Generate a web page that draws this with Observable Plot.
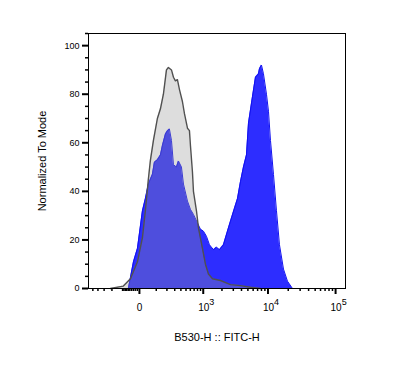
<!DOCTYPE html>
<html>
<head>
<meta charset="utf-8">
<script src="https://cdn.jsdelivr.net/npm/d3@7"></script>
<script src="https://cdn.jsdelivr.net/npm/@observablehq/plot@0.6"></script>
<style>
  html, body { margin: 0; padding: 0; background: #fff; }
  svg { font-family: "Liberation Sans", Arial, sans-serif; }
</style>
</head>
<body>
<div id="chart"></div>
<script>
// Control (grey) histogram: FITC-H value vs % of mode
const grayX = [-217, -94, -46, -9, 14, 29, 46, 59, 79, 109, 135, 163, 195, 217, 255, 282, 310, 341, 374, 428, 468, 532, 578, 602, 654, 681, 768, 831, 970, 1088, 1218, 1415, 1895, 2713, 3860, 5469, 7729];
const grayY = [0, 1, 4, 11, 21, 32, 45, 53, 61, 70, 74, 80, 90, 91, 90, 87, 85.5, 86, 82, 77, 72, 66, 65, 59, 48, 40, 32, 25, 16.5, 10, 6, 4, 3.3, 1.6, 1.2, 0.5, 0];

// Stained (blue) histogram
const blueX = [-59, -29, -9, 14, 29, 46, 72, 86, 109, 135, 154, 184, 206, 229, 255, 282, 326, 358, 410, 448, 532, 602, 681, 799, 898, 1008, 1130, 1265, 1467, 1638, 1828, 2111, 2438, 2713, 3125, 3474, 3860, 4286, 4759, 5102, 5863, 6503, 7214, 7466, 8000, 8567, 9499, 10175, 10900, 12076, 13385, 14833, 17000, 19490, 23110];
const blueY = [0, 11, 16.5, 32, 37, 43, 47, 52, 53, 55, 59, 63.6, 65, 65.7, 61, 51, 50, 52.5, 50, 43, 36, 32.6, 30.5, 27, 24.4, 23.6, 21.5, 18, 16, 17, 16, 18, 23.6, 27.7, 33, 37, 44, 50, 55, 68, 79, 87, 88.4, 90.5, 92, 88.4, 80, 73, 61, 47, 32, 18, 8, 3, 0];

// Axis ticks
const xMajor = [0, 1000, 10000, 100000];
const xMajorBase = ["0", "10", "10", "10"];
const xMajorExp = ["", "3", "4", "5"];
const xMinor = [-500, -400, -300, -200, -100, -90, -80, -70, -60, -50, -40, -30, -20, -10,
  100, 200, 300, 400, 500, 600, 700, 800, 900,
  2000, 3000, 4000, 5000, 6000, 7000, 8000, 9000,
  20000, 30000, 40000, 50000, 60000, 70000, 80000, 90000];
const yMajor = [0, 20, 40, 60, 80, 100];
const yMinor = [5, 10, 15, 25, 30, 35, 45, 50, 55, 65, 70, 75, 85, 90, 95, 105];

const gray = grayX.map((x, i) => ({x, y: grayY[i]}));
const blue = blueX.map((x, i) => ({x, y: blueY[i]}));

const chart = Plot.plot({
  width: 405,
  height: 368,
  marginLeft: 88,
  marginRight: 60,
  marginTop: 33,
  marginBottom: 80,
  style: {fontFamily: "Liberation Sans, Arial, sans-serif", fontSize: "9px", color: "#000", background: "#fff"},
  x: {type: "symlog", constant: 130, domain: [-600, 140000]},
  y: {domain: [0, 105]},
  marks: [
    Plot.areaY(blue, {x: "x", y: "y", fill: "#2d2dff", curve: "linear"}),
    Plot.lineY(blue, {x: "x", y: "y", stroke: "#1010f0", strokeWidth: 1, curve: "linear"}),
    Plot.areaY(gray, {x: "x", y: "y", fill: "#969696", fillOpacity: 0.32, curve: "linear"}),
    Plot.lineY(gray, {x: "x", y: "y", stroke: "#505050", strokeWidth: 1.4, curve: "linear"}),
    Plot.frame({stroke: "#000", strokeWidth: 1}),
    Plot.axisY({ticks: yMinor, tickSize: 3, tickFormat: () => "", strokeWidth: 1.5, label: null}),
    Plot.axisY({ticks: yMajor, tickSize: 6, tickPadding: 3, strokeWidth: 2, fontSize: 9,
      label: "Normalized To Mode", labelAnchor: "center", labelArrow: "none", labelOffset: 50}),
    Plot.axisX({ticks: xMinor, tickSize: 3, tickFormat: () => "", strokeWidth: 1.5, label: null}),
    Plot.axisX({ticks: xMajor, tickSize: 6, tickPadding: 9, strokeWidth: 2, fontSize: 10,
      tickFormat: (d) => xMajorBase[xMajor.indexOf(d)] + "|" + xMajorExp[xMajor.indexOf(d)],
      label: "B530-H :: FITC-H", labelAnchor: "center", labelArrow: "none", labelOffset: 52})
  ]
});
// Superscript exponents and larger axis titles
chart.querySelectorAll("text").forEach(t => {
  const s = t.textContent;
  if (s.includes("|")) {
    const [base, exp] = s.split("|");
    t.textContent = "";
    const b = document.createElementNS("http://www.w3.org/2000/svg", "tspan");
    b.textContent = base;
    t.appendChild(b);
    if (exp) {
      const e = document.createElementNS("http://www.w3.org/2000/svg", "tspan");
      e.textContent = exp;
      e.setAttribute("dy", "-0.6em");
      e.setAttribute("font-size", "9");
      t.appendChild(e);
      t.setAttribute("dx", "3");
    }
  } else if (s === "Normalized To Mode" || s === "B530-H :: FITC-H") {
    t.setAttribute("font-size", "11");
  }
});
document.getElementById("chart").appendChild(chart);
</script>
</body>
</html>
